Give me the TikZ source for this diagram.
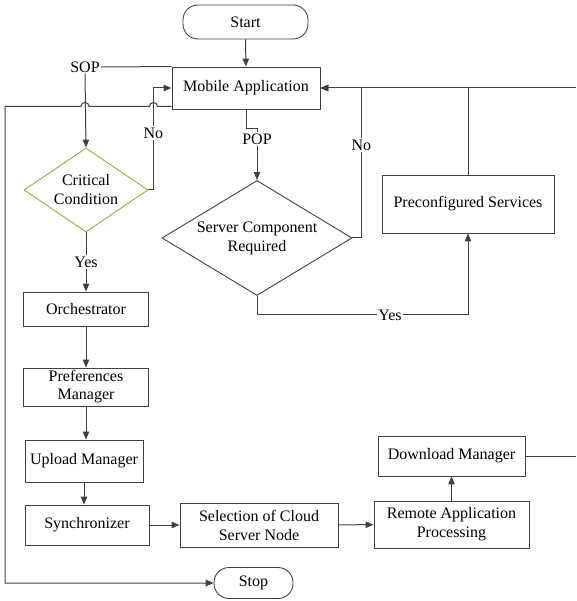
\documentclass[tikz,border=0pt]{standalone}
\usepackage{fontspec}
\setmainfont{LiberationSerif}[Extension=.ttf,UprightFont=*-Regular,BoldFont=*-Bold]
\usetikzlibrary{calc,arrows.meta,shapes.geometric}
\definecolor{linegray}{HTML}{404040}
\definecolor{olivebd}{HTML}{9AA84E}

\begin{document}
\begin{tikzpicture}[x=1pt,y=-1pt,
		font=\rmfamily\fontsize{16}{19}\selectfont,
		box/.style={draw=linegray,line width=0.9pt,align=center,inner sep=1pt},
		term/.style={box,rounded corners=15pt},
		decide/.style={draw=linegray,line width=0.9pt,diamond,aspect=#1,inner sep=0pt,align=center},
		lbl/.style={fill=white,inner sep=1.5pt},
		line/.style={draw=linegray,line width=1pt},
		arr/.style={line,-{Triangle[length=8pt,width=6.5pt]}}]
				\useasboundingbox (0,0) rectangle (576,601);
				
				\node[term,minimum width=125,minimum height=34] (start) at (245.5,22) {Start};
				\node[box,minimum width=148,minimum height=42] (mob) at (246,88) {Mobile Application};
				\node[inner sep=1pt] (sop) at (85,67) {SOP};
				\node[inner sep=1pt] (pop) at (257,139) {POP};
				
				\node[decide=1.48,draw=olivebd,minimum width=124,minimum height=84] (crit) at (86,190) {Critical\\Condition};
				\node[decide=1.65,minimum width=190,minimum height=115] (srv) at (257,238) {Server Component\\Required};
				\node[box,minimum width=172,minimum height=58] (pre) at (468,204) {Preconfigured Services};
				
				\node[box,minimum width=125,minimum height=34] (orch) at (86,309) {Orchestrator};
				\node[box,minimum width=125,minimum height=38,font=\fontsize{16}{18}\selectfont] (pref) at (86,387) {Preferences\\Manager};
				\node[box,minimum width=118,minimum height=42] (upl) at (84,461) {Upload Manager};
				\node[box,minimum width=124,minimum height=40] (sync) at (87,525) {Synchronizer};
				\node[box,minimum width=158,minimum height=44] (sel) at (259,525) {Selection of Cloud\\Server Node};
				\node[box,minimum width=155,minimum height=47] (rem) at (451.5,524.5) {Remote Application\\Processing};
				\node[box,minimum width=147,minimum height=40] (down) at (451.5,456) {Download Manager};
				\node[term,minimum width=79,minimum height=31] (stop) at (253.5,583) {Stop};
				
				\coordinate (hop) at ([yshift=3pt]mob.south west);
				\coordinate (noup) at ([xshift=5pt]crit.east);
				\coordinate (lft) at (5,583);
				\coordinate (rgt) at (576,88);
				
				\draw[arr] (start) -- (mob);
				\draw[line] (sop.east) -- (mob.north west);
				\draw[arr] (sop.south) -- (crit.north);
				\draw[arr] (crit.east) -- (noup) |- node[lbl,pos=0.28] {No} (mob.west);
				\draw[arr] (crit.south) -- node[lbl] {Yes} (orch.north);
				
				\draw[line] (mob.south) -- ++(0,19) -| (pop.north);
				\draw[arr] (pop.south) -- (srv.north);
				\draw[arr] (srv.east) -- ++(9,0) |- node[lbl,pos=0.31] {No} (mob.east);
				\draw[arr] (srv.south) -- ++(0,19) -| node[lbl,pos=0.315] {Yes} (pre.south);
				\draw[line] (pre.north) -- (pre.north |- mob.east);
				\draw[arr] (rgt) -- (mob.east);
				
				\draw[arr] (orch) -- (pref);
				\draw[arr] (pref.south) -- (pref.south |- upl.north);
				\draw[arr] (upl.south) -- (upl.south |- sync.north);
				\draw[arr] (sync) -- (sel);
				\draw[arr] (sel) -- (rem);
				\draw[arr] (rem) -- (down);
				\draw[line] (down.east) -- (down.east -| rgt);
				
				\draw[arr] (hop) -- ($(noup |- hop)+(4,0)$) arc[start angle=0,end angle=180,radius=4pt]
					-- ($(sop.south |- hop)+(4,0)$) arc[start angle=0,end angle=180,radius=4pt]
					-- (lft |- hop) -- (lft) -- (stop.west);
			\end{tikzpicture}
\end{document}
